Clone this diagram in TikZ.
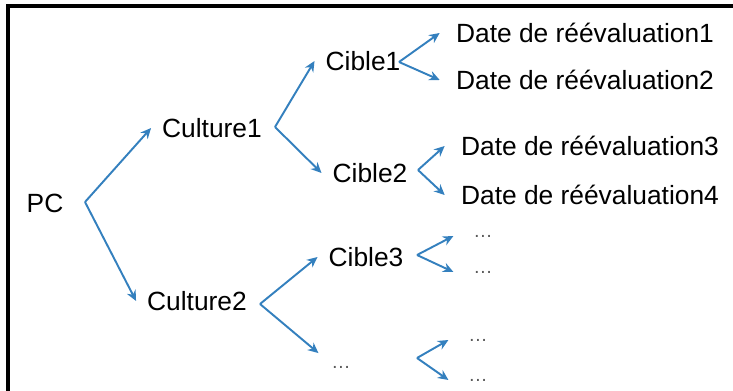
\documentclass[tikz,border=0pt]{standalone}
\usepackage{fontspec}
\setmainfont{Liberation Sans}
\usetikzlibrary{arrows.meta}
\definecolor{arrowblue}{RGB}{52,128,190}
\tikzset{
	arr/.style = {draw=arrowblue, line width=1.1pt, -{Stealth[length=6pt, width=5.5pt]}},
	mid/.style = {font=\fontsize{15}{18}\selectfont, outer sep=3pt},
	leaf/.style = {font=\fontsize{15}{18}\selectfont, outer sep=6pt},
	etc/.style = {font=\fontsize{11}{13}\selectfont, text=black!65, outer sep=8pt}
}

\begin{document}
\begin{tikzpicture}[x=0.02cm, y=-0.02cm]
		\useasboundingbox (0,0) rectangle (733,391);
		\draw[line width=1.8pt] (8,391) -- (8,6) -- (733,6);
		% names of the tree
		\node[mid] (pc) at (45,203) {PC};
		\node[mid] (cu1) at (212,128) {Culture1};
		\node[mid] (cu2) at (197,301) {Culture2};
		\node[mid] (ci1) at (363,61) {Cible1};
		\node[mid] (ci2) at (370,173) {Cible2};
		\node[mid] (ci3) at (366,257) {Cible3};
		\node[etc, outer sep=4pt] (e0) at (341,367) {…};
		\node[leaf] (d1) at (585,33) {Date de réévaluation1};
		\node[leaf] (d2) at (585,80) {Date de réévaluation2};
		\node[leaf] (d3) at (590,146) {Date de réévaluation3};
		\node[leaf] (d4) at (590,195) {Date de réévaluation4};
		\node[etc] (e1) at (483,236) {…};
		\node[etc] (e2) at (483,272) {…};
		\node[etc] (e3) at (478,340) {…};
		\node[etc] (e4) at (478,380) {…};
		% forks
		\coordinate (pcf) at (85,202);
		\coordinate (cu1f) at (275,127);
		\coordinate (cu2f) at (260,304);
		\coordinate (ci1f) at (399,62);
		\coordinate (ci2f) at (418,170);
		\coordinate (ci3f) at (417,255);
		\coordinate (e0f) at (417,358);
		\draw[arr] (pcf) -- (cu1.west);
		\draw[arr] (pcf) -- (cu2.west);
		\draw[arr] (cu1f) -- (ci1.west);
		\draw[arr] (cu1f) -- (ci2.west);
		\draw[arr] (cu2f) -- (ci3.west);
		\draw[arr] (cu2f) -- (e0.north west);
		\draw[arr] (ci1f) -- (d1.west);
		\draw[arr] (ci1f) -- (d2.west);
		\draw[arr] (ci2f) -- (d3.west);
		\draw[arr] (ci2f) -- (d4.west);
		\draw[arr] (ci3f) -- (e1.west);
		\draw[arr] (ci3f) -- (e2.west);
		\draw[arr] (e0f) -- (e3.west);
		\draw[arr] (e0f) -- (e4.west);
	\end{tikzpicture}
\end{document}
